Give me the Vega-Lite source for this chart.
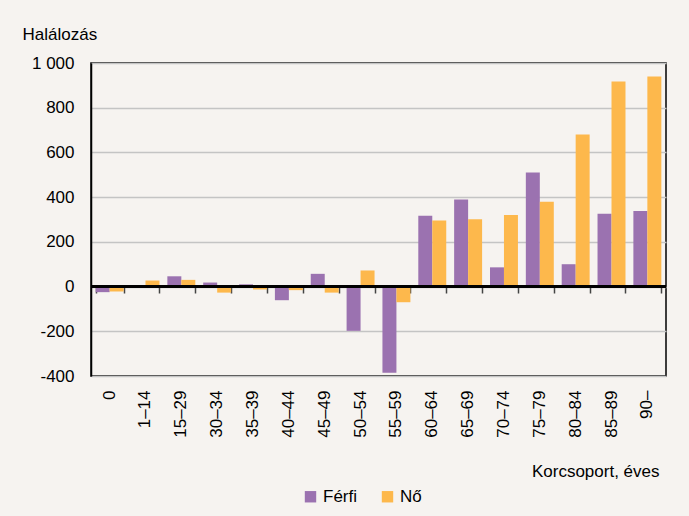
{
  "$schema": "https://vega.github.io/schema/vega-lite/v6.json",
  "width": 575,
  "height": 313,
  "autosize": {"type": "none"},
  "padding": {"left": 91, "top": 63, "right": 23, "bottom": 140},
  "background": "#f6f3f0",
  "config": {
    "font": "Liberation Sans",
    "view": {"stroke": "#000000", "strokeWidth": 1.5, "fill": "#f6f3f0"},
    "axis": {"labelFont": "Liberation Sans", "titleFont": "Liberation Sans", "labelColor": "#000000", "titleColor": "#000000", "labelFontSize": 17, "titleFontSize": 17, "titleFontWeight": "normal"},
    "legend": {"labelFont": "Liberation Sans", "labelFontSize": 17, "labelColor": "#000000"}
  },
  "data": {
    "values": [
      {"age": "0", "sex": "Férfi", "value": -25},
      {"age": "0", "sex": "Nő", "value": -22},
      {"age": "1–14", "sex": "Férfi", "value": -5},
      {"age": "1–14", "sex": "Nő", "value": 27},
      {"age": "15–29", "sex": "Férfi", "value": 46},
      {"age": "15–29", "sex": "Nő", "value": 30},
      {"age": "30–34", "sex": "Férfi", "value": 18},
      {"age": "30–34", "sex": "Nő", "value": -27},
      {"age": "35–39", "sex": "Férfi", "value": 10},
      {"age": "35–39", "sex": "Nő", "value": -13},
      {"age": "40–44", "sex": "Férfi", "value": -61},
      {"age": "40–44", "sex": "Nő", "value": -16},
      {"age": "45–49", "sex": "Férfi", "value": 57},
      {"age": "45–49", "sex": "Nő", "value": -27},
      {"age": "50–54", "sex": "Férfi", "value": -198},
      {"age": "50–54", "sex": "Nő", "value": 72},
      {"age": "55–59", "sex": "Férfi", "value": -385},
      {"age": "55–59", "sex": "Nő", "value": -70},
      {"age": "60–64", "sex": "Férfi", "value": 317},
      {"age": "60–64", "sex": "Nő", "value": 295},
      {"age": "65–69", "sex": "Férfi", "value": 389},
      {"age": "65–69", "sex": "Nő", "value": 301},
      {"age": "70–74", "sex": "Férfi", "value": 86},
      {"age": "70–74", "sex": "Nő", "value": 320},
      {"age": "75–79", "sex": "Férfi", "value": 510},
      {"age": "75–79", "sex": "Nő", "value": 379},
      {"age": "80–84", "sex": "Férfi", "value": 100},
      {"age": "80–84", "sex": "Nő", "value": 680},
      {"age": "85–89", "sex": "Férfi", "value": 326},
      {"age": "85–89", "sex": "Nő", "value": 917},
      {"age": "90–", "sex": "Férfi", "value": 338},
      {"age": "90–", "sex": "Nő", "value": 940}
    ]
  },
  "resolve": {"axis": {"x": "independent"}},
  "layer": [
    {
      "mark": {"type": "bar"},
      "encoding": {
        "x": {
          "field": "age", "type": "nominal", "sort": null,
          "scale": {"paddingInner": 0.22, "paddingOuter": 0.13},
          "axis": {"title": "Korcsoport, éves", "labelAngle": -90, "ticks": false, "domain": false, "labelPadding": 14,
                   "titleAnchor": "end", "titleAlign": "right", "titleX": 568, "titleY": 100, "titleBaseline": "alphabetic"}
        },
        "xOffset": {"field": "sex", "type": "nominal", "scale": {"paddingInner": 0, "paddingOuter": 0}},
        "y": {
          "field": "value", "type": "quantitative",
          "scale": {"domain": [-400, 1000], "nice": false},
          "axis": {"values": [-400, -200, 0, 200, 400, 600, 800, 1000], "labelExpr": "datum.value == 1000 ? '1 000' : toString(datum.value)",
                   "grid": true, "gridColor": "#c4c4c4", "gridWidth": 1.5, "ticks": false, "labelPadding": 17,
                   "domainColor": "#000000", "domainWidth": 1.5,
                   "title": "Halálozás", "titleAngle": 0, "titleAlign": "left", "titleBaseline": "alphabetic", "titleX": -69, "titleY": -24}
        },
        "color": {
          "field": "sex", "type": "nominal",
          "scale": {"domain": ["Férfi", "Nő"], "range": ["#9b72b0", "#fdb84c"]},
          "legend": {"title": null, "orient": "none", "direction": "horizontal", "legendX": 211, "legendY": 425, "symbolType": "square", "symbolSize": 130, "symbolStrokeWidth": 0, "columnPadding": 22, "labelOffset": 4}
        }
      }
    },
    {
      "mark": {"type": "rule", "color": "#000000", "strokeWidth": 1.5},
      "encoding": {"y": {"datum": 0}}
    },
    {
      "mark": {"type": "bar", "opacity": 0},
      "encoding": {
        "x": {
          "field": "age", "type": "nominal", "sort": null,
          "axis": {"orient": "bottom", "offset": -89, "labels": false, "title": null, "domain": false, "grid": false,
                   "ticks": true, "tickSize": 6, "tickColor": "#444444", "tickWidth": 1.5, "tickBand": "extent"}
        },
        "y": {"field": "value", "type": "quantitative"}
      }
    }
  ]
}
